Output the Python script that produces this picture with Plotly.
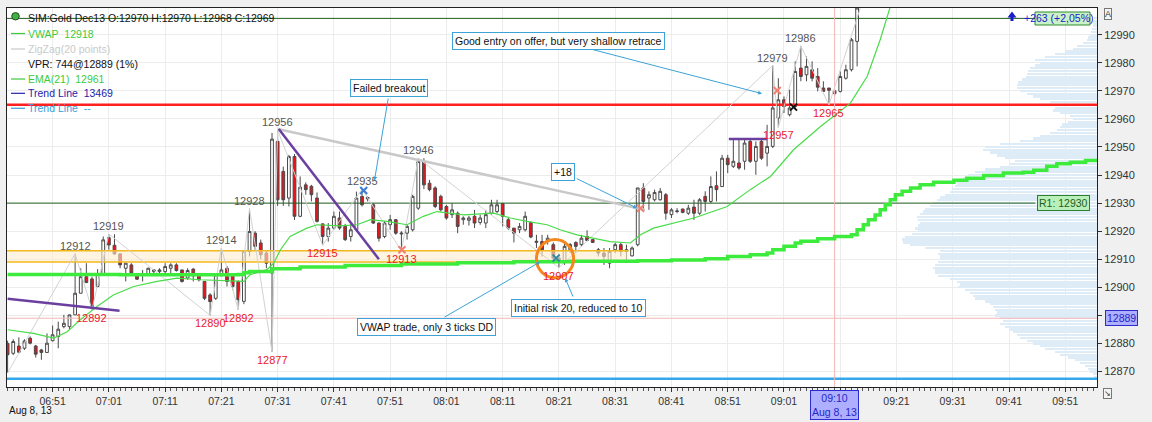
import plotly.graph_objects as go
import pandas as pd

# ---------------- data ----------------
BASE = pd.Timestamp('2013-08-08 06:43:00')   # first 1-minute bar

opens = [12880, 12876.5, 12879.1, 12878.3, 12881.9, 12879.1, 12877.7, 12876.8, 12881.0, 12882.5,
         12886.0, 12886.0, 12890.2, 12897.9, 12903.8, 12903.0, 12900.3, 12904.4, 12917.7, 12915.0,
         12911.9, 12906.8, 12908.0, 12904.1, 12904.4, 12904.8, 12905.6, 12905.6, 12905.6, 12906.8,
         12908.0, 12906.2, 12903.3, 12906.5, 12904.4, 12902.1, 12897.3, 12896.1, 12904.1, 12906.8,
         12904.4, 12902.1, 12895.0, 12912.8, 12919.3, 12915.8, 12912.2, 12905.1, 12952.0, 12941.3,
         12931.8, 12946.6, 12925.3, 12936.5, 12936.0, 12931.8, 12922.6, 12918.1, 12921.1, 12924.7,
         12921.7, 12918.1, 12920.5, 12932.4, 12931.5, 12929.4, 12922.9, 12918.1, 12922.3, 12924.1,
         12919.0, 12919.3, 12920.5, 12928.2, 12944.8, 12937.1, 12935.4, 12932.4, 12928.8, 12925.9,
         12926.4, 12924.1, 12923.9, 12925.3, 12923.1, 12922.9, 12926.4, 12927.0, 12929.8, 12924.1,
         12921.1, 12920.5, 12920.5, 12923.1, 12916.0, 12916.3, 12916.4, 12915.2, 12910.4, 12909.2,
         12913.4, 12916.0, 12915.2, 12918.1, 12917.0, 12913.4, 12912.2, 12908.6, 12913.4, 12915.2,
         12913.4, 12911.2, 12915.2, 12935.4, 12931.8, 12931.2, 12931.2, 12933.0, 12925.9, 12927.0,
         12927.9, 12926.4, 12928.6, 12926.4, 12932.4, 12930.6, 12936.2, 12935.9, 12946.0, 12943.1,
         12944.3, 12944.9, 12952.0, 12944.9, 12952.0, 12947.8, 12950.2, 12960.3, 12966.8, 12961.5,
         12964.4, 12978.1, 12975.7, 12977.5, 12975.1, 12971.0, 12971.0, 12970.0, 12969.8, 12974.5,
         12977.5, 12987.6]
highs = [12881, 12881.5, 12882.2, 12881.5, 12882.5, 12879.5, 12878.1, 12883.6, 12886.4, 12887.8,
         12890.2, 12890.2, 12912.0, 12906.8, 12908.6, 12903.8, 12906.5, 12918.1, 12919.0, 12918.9,
         12912.2, 12908.8, 12908.6, 12905.0, 12906.2, 12907.0, 12906.5, 12906.8, 12908.6, 12908.6,
         12908.6, 12906.2, 12906.8, 12906.8, 12905.0, 12902.1, 12897.9, 12905.0, 12914.0, 12907.6,
         12905.0, 12902.5, 12913.0, 12928.0, 12920.0, 12917.0, 12913.0, 12955.0, 12956.0, 12943.0,
         12947.2, 12947.5, 12939.5, 12937.4, 12936.5, 12933.8, 12922.8, 12922.9, 12927.0, 12927.0,
         12922.6, 12922.9, 12934.1, 12935.0, 12932.4, 12930.0, 12923.1, 12923.5, 12925.8, 12924.3,
         12920.0, 12922.3, 12933.0, 12946.0, 12946.0, 12938.3, 12936.0, 12933.0, 12929.4, 12930.0,
         12927.0, 12925.3, 12925.5, 12927.6, 12925.9, 12927.6, 12931.2, 12931.2, 12930.0, 12924.7,
         12921.1, 12922.9, 12927.0, 12923.5, 12918.7, 12918.7, 12918.7, 12916.0, 12912.0, 12915.8,
         12915.8, 12916.4, 12918.7, 12920.3, 12917.2, 12914.0, 12914.0, 12914.0, 12915.8, 12915.8,
         12915.2, 12914.6, 12935.4, 12937.1, 12934.2, 12934.8, 12935.4, 12933.6, 12928.2, 12928.2,
         12928.0, 12929.4, 12931.2, 12931.8, 12934.2, 12939.5, 12941.3, 12947.2, 12947.2, 12952.6,
         12952.6, 12952.6, 12952.6, 12952.0, 12952.6, 12957.9, 12979.0, 12974.5, 12968.0, 12970.4,
         12980.5, 12986.0, 12982.3, 12980.5, 12978.1, 12973.4, 12971.0, 12970.0, 12976.9, 12979.3,
         12988.8, 13003.0]
lows = [12869.5, 12875.9, 12876.5, 12877.7, 12879.7, 12875.0, 12874.2, 12876.8, 12880.7, 12878.3,
        12885.4, 12884.8, 12890.2, 12897.9, 12901.5, 12892.0, 12900.0, 12904.4, 12913.4, 12911.6,
        12906.8, 12902.1, 12904.4, 12902.7, 12902.1, 12904.4, 12905.0, 12904.4, 12904.4, 12905.0,
        12905.6, 12901.7, 12902.7, 12902.1, 12902.1, 12895.5, 12890.0, 12895.5, 12904.1, 12900.3,
        12899.0, 12892.0, 12894.0, 12911.0, 12913.4, 12910.0, 12906.8, 12877.0, 12929.0, 12929.0,
        12928.8, 12924.0, 12925.0, 12933.0, 12930.6, 12923.1, 12915.0, 12916.3, 12920.5, 12920.5,
        12916.5, 12916.3, 12920.0, 12928.8, 12930.6, 12922.6, 12916.3, 12917.5, 12920.5, 12918.7,
        12913.0, 12917.0, 12919.9, 12927.6, 12935.0, 12934.2, 12928.2, 12927.0, 12924.1, 12924.7,
        12919.3, 12922.3, 12922.0, 12921.1, 12922.3, 12921.1, 12925.9, 12926.4, 12921.7, 12920.5,
        12916.0, 12919.3, 12919.9, 12917.5, 12914.0, 12911.0, 12915.2, 12909.6, 12907.0, 12908.0,
        12912.2, 12912.2, 12914.6, 12916.4, 12915.8, 12911.0, 12908.0, 12906.8, 12912.2, 12911.0,
        12909.2, 12911.0, 12914.6, 12928.0, 12927.6, 12930.6, 12930.9, 12924.1, 12924.7, 12926.4,
        12926.4, 12925.8, 12924.0, 12925.8, 12927.0, 12930.0, 12930.6, 12935.9, 12940.7, 12942.5,
        12941.9, 12941.9, 12944.3, 12940.1, 12945.4, 12943.1, 12949.6, 12957.0, 12962.1, 12960.9,
        12963.3, 12973.4, 12973.4, 12973.4, 12969.8, 12969.8, 12965.0, 12968.0, 12969.4, 12974.0,
        12976.9, 12978.7]
closes = [12876, 12880.7, 12876.9, 12880.9, 12880.1, 12876.2, 12876.8, 12880.1, 12883.1, 12885.1,
          12887.2, 12890.2, 12897.9, 12903.8, 12901.7, 12893.2, 12904.8, 12916.9, 12915.1, 12911.9,
          12908.0, 12908.6, 12905.0, 12902.9, 12904.8, 12906.8, 12906.2, 12906.2, 12907.4, 12908.0,
          12906.0, 12902.1, 12906.0, 12904.1, 12902.7, 12896.1, 12894.9, 12904.4, 12906.2, 12902.1,
          12900.3, 12895.6, 12912.8, 12919.9, 12914.6, 12911.6, 12908.6, 12952.8, 12931.2, 12931.2,
          12946.6, 12925.3, 12935.7, 12934.8, 12933.0, 12923.5, 12918.1, 12921.1, 12925.3, 12921.1,
          12917.0, 12920.5, 12931.8, 12929.4, 12932.0, 12922.9, 12917.5, 12922.9, 12924.1, 12919.3,
          12919.3, 12921.7, 12932.4, 12944.8, 12936.5, 12934.8, 12928.8, 12927.6, 12924.7, 12927.6,
          12921.7, 12924.7, 12924.7, 12922.9, 12924.7, 12925.9, 12929.4, 12929.4, 12925.3, 12921.1,
          12919.3, 12921.7, 12925.3, 12917.9, 12916.4, 12913.4, 12917.5, 12910.4, 12909.2, 12914.6,
          12915.2, 12914.6, 12917.5, 12916.7, 12916.0, 12912.2, 12911.0, 12912.8, 12915.2, 12912.8,
          12912.8, 12914.0, 12935.4, 12930.6, 12933.0, 12933.8, 12934.2, 12926.4, 12927.6, 12927.2,
          12926.7, 12928.2, 12926.4, 12931.2, 12930.6, 12935.9, 12934.8, 12946.0, 12943.7, 12944.9,
          12942.5, 12951.4, 12944.9, 12950.2, 12946.0, 12950.2, 12963.9, 12966.8, 12964.4, 12963.9,
          12976.9, 12975.1, 12978.7, 12974.5, 12971.3, 12969.8, 12970.2, 12969.0, 12975.1, 12977.5,
          12988.2, 12999.5]

# indicators (bar index, value)
vwap_bar = [0, 20, 41, 42, 43, 47, 52, 60, 70, 80, 90, 100, 112, 118, 124, 128, 132, 135, 136, 138,
            140, 141, 144, 147, 150, 151, 152.1, 153, 154.2, 155.1, 156, 156.9, 157.8, 159, 160.5,
            162.2, 164.6, 168.2, 170.5, 173.5, 177, 180.5, 182.4, 184.7, 186.5, 188.9, 191.6, 194]
vwap_val = [12904.6, 12904.5, 12904.6, 12905.2, 12905.6, 12906.6, 12907.2, 12907.8, 12908.3, 12908.8,
            12909.1, 12909.3, 12909.5, 12909.7, 12910.2, 12911.0, 12911.6, 12912.2, 12913.4, 12914.6,
            12915.8, 12916.4, 12917.3, 12918.1, 12918.7, 12920.5, 12922.3, 12924.1, 12925.8, 12927.6,
            12929.4, 12931.2, 12933.0, 12934.2, 12935.4, 12936.5, 12937.4, 12938.1, 12938.9, 12939.8,
            12940.7, 12941.0, 12941.7, 12943.1, 12944.0, 12944.6, 12945.2, 12945.7]
ema_bar = [0, 4.6, 8.2, 10.6, 12.9, 15.9, 18.8, 22.4, 26.6, 30.1, 34.3, 37.8, 42, 43.1, 46.1, 47.3,
           48.5, 50.2, 53.2, 55, 59.1, 62.1, 64.5, 67.4, 71, 73.9, 76.3, 81.1, 86.4, 89.4, 92.3, 95.9,
           98.2, 101.2, 104.2, 107.1, 110.7, 112.5, 114.8, 117.2, 120, 122, 127.9, 132, 135.6, 139.7,
           144.5, 148, 149.8, 152.8, 155.1, 156.9, 158]
ema_val = [12884.9, 12883.6, 12881.9, 12884.2, 12888.4, 12893.2, 12897.3, 12900.3, 12902.1, 12903.3,
           12902.7, 12902.4, 12902.1, 12904.5, 12906.3, 12908.6, 12913.4, 12918.1, 12921.1, 12922.3,
           12921.9, 12922.3, 12924.1, 12923.5, 12922.3, 12925.3, 12927.0, 12925.8, 12926.4, 12924.7,
           12923.5, 12922.3, 12920.5, 12918.7, 12917.5, 12916.3, 12915.8, 12918.7, 12921.1, 12922.3,
           12923.5, 12924.7, 12928.8, 12934.8, 12939.5, 12949.0, 12957.3, 12962.7, 12965.6, 12975.2,
           12988.2, 13000.0, 13004.0]
zz_bar = [0, 12, 15, 18, 36, 38, 41, 43, 47, 48, 56, 63, 70, 73, 98, 136, 137, 141, 146, 152.3]
zz_val = [12869.5, 12912, 12892, 12919, 12890, 12914, 12892, 12928, 12877, 12956, 12915, 12935,
          12913, 12946, 12907, 12979, 12957, 12986, 12965, 13004]

swing_hi_bar = [12, 18, 38, 43, 48, 63, 73, 136, 141]
swing_hi_val = [12912, 12919, 12914, 12928, 12956, 12935, 12946, 12979, 12986]
swing_lo_bar = [15, 36, 41, 47, 56, 70, 98, 137, 146]
swing_lo_val = [12892, 12890, 12892, 12877, 12915, 12913, 12907, 12957, 12965]

# volume profile (price level -> volume)
vp_price = list(range(12996, 12867, -1))
vp_vol = [3, 4, 4, 4, 5, 6, 7, 9, 10, 14, 20, 24, 32, 42, 52, 62, 57, 62, 67, 69,
          70, 71, 75, 79, 80, 80, 77, 70, 64, 57, 47, 37, 42, 44, 37, 27, 24, 29, 35, 37,
          40, 47, 57, 64, 77, 97, 112, 114, 107, 100, 92, 82, 87, 97, 112, 122, 129, 134, 137, 140,
          142, 145, 147, 152, 157, 160, 164, 167, 172, 174, 177, 180, 179, 177, 179, 182, 179, 185, 192, 195,
          194, 187, 172, 157, 159, 157, 157, 159, 162, 164, 162, 162, 159, 147, 140, 137, 139, 132, 127, 124,
          122, 112, 107, 104, 102, 100, 102, 97, 94, 97, 92, 87, 84, 80, 77, 70, 64, 57, 52, 42,
          37, 29, 22, 17, 12, 9, 7, 4, 3]

# levels
red_level = 12965
r1_level = 12930
r2_level = 12995.8
cross_price = 12889
cross_bar = 147
cyan_level = 12867.4
band_hi, band_lo, band_end_bar = 12913.0, 12909.0, 110.4

# trade markers (bar, price)
mk_bar = [63.3, 70.1, 97.5, 112.5, 136.8, 139.7]
mk_val = [12934.5, 12913.4, 12910.4, 12928.2, 12970.1, 12964.2]
mk_col = ['#3A7BD5', '#F08070', '#2E8BA8', '#F08070', '#F08070', '#111111']

# drawn trend lines ((bar0, p0), (bar1, p1))
purple_lines = [((0, 12895.9), (19.9, 12891.7)), ((48.2, 12956.4), (66.0, 12910.0)),
                ((128.2, 12952.8), (135.0, 12952.8))]
grey_line = ((48.0, 12956.4), (113.3, 12927.6))

x_tick_labels = ['06:51', '07:01', '07:11', '07:21', '07:31', '07:41', '07:51', '08:01', '08:11',
                 '08:21', '08:31', '08:41', '08:51', '09:01', '', '09:21', '09:31', '09:41', '09:51']
y_ticks = list(range(12870, 13000, 10))
# the 12890 label sits under the crosshair price box in the original
y_tick_labels = ['' if v == 12890 else str(v) for v in y_ticks]

# ---------------- helpers ----------------
def tt(b):
    return BASE + pd.Timedelta(minutes=b)

def t(b):
    return tt(b).strftime('%Y-%m-%d %H:%M:%S.%f')

X_LEFT, X_RIGHT = -0.107, 193.64        # visible range in bars
PL, PT, PW, PH = 7, 8, 1090, 379
W, H = 1152, 422
def px(x):
    return (x - PL) / PW
def py(y):
    return 1 - (y - PT) / PH

FONT = 'Liberation Sans'
bar_times = [t(i) for i in range(len(opens))]

fig = go.Figure()

# volume profile (behind everything), anchored at the right edge of the time axis
MS_PER_VOL = (X_RIGHT - X_LEFT) * 60000 / PW      # one volume unit ~ one pixel
right_edge = tt(X_RIGHT)
vp_len = [v * MS_PER_VOL for v in vp_vol]
vp_base = [(right_edge - pd.Timedelta(milliseconds=d)).strftime('%Y-%m-%d %H:%M:%S.%f') for d in vp_len]
fig.add_trace(go.Bar(x=vp_len, y=vp_price, base=vp_base, orientation='h',
                     marker=dict(color='rgb(221,236,246)', line=dict(width=0)), width=0.8,
                     hoverinfo='skip'))

# band
fig.add_trace(go.Scatter(x=[t(-0.2), t(band_end_bar)], y=[band_hi, band_hi], mode='lines',
                         line=dict(color='#F2B81C', width=1.5), hoverinfo='skip'))
fig.add_trace(go.Scatter(x=[t(-0.2), t(band_end_bar)], y=[band_lo, band_lo], mode='lines',
                         line=dict(color='#F2B81C', width=1.5), fill='tonexty',
                         fillcolor='rgba(255,236,205,0.6)', hoverinfo='skip'))

# horizontal levels
xl, xr = t(-0.2), t(194)
xlab = t((1035 - 7.3) / 5.626)
for lvl, col, w, x1 in [(cyan_level, '#35A8EC', 2.5, xr), (cross_price, '#F3B6B6', 1, xr),
                        (r1_level, '#1F5F1F', 1, xlab), (r2_level, '#1F5F1F', 1, xlab),
                        (red_level, '#FF2020', 2.5, xr)]:
    fig.add_trace(go.Scatter(x=[xl, x1], y=[lvl, lvl], mode='lines',
                             line=dict(color=col, width=w), hoverinfo='skip'))

# crosshair vertical
fig.add_trace(go.Scatter(x=[t(cross_bar), t(cross_bar)], y=[12860, 13010], mode='lines',
                         line=dict(color='#F3B6B6', width=1), hoverinfo='skip'))

# zigzag, VWAP, EMA
fig.add_trace(go.Scatter(x=[t(b) for b in zz_bar], y=zz_val, mode='lines',
                         line=dict(color='#D2D2D2', width=1), hoverinfo='skip'))
fig.add_trace(go.Scatter(x=[t(b) for b in vwap_bar], y=vwap_val, mode='lines',
                         line=dict(color='#3DEB3D', width=3.5, shape='hv'), hoverinfo='skip'))
fig.add_trace(go.Scatter(x=[t(b) for b in ema_bar], y=ema_val, mode='lines',
                         line=dict(color='#48DC48', width=1.2), hoverinfo='skip'))

# candles
fig.add_trace(go.Candlestick(x=bar_times, open=opens, high=highs, low=lows, close=closes,
                             increasing=dict(line=dict(color='#4A4A4A', width=1), fillcolor='white'),
                             decreasing=dict(line=dict(color='#4A4A4A', width=1), fillcolor='#E8141B'),
                             whiskerwidth=0, hoverinfo='skip'))

# trend lines
fig.add_trace(go.Scatter(x=[t(grey_line[0][0]), t(grey_line[1][0])],
                         y=[grey_line[0][1], grey_line[1][1]], mode='lines',
                         line=dict(color='#C9C9C9', width=2.5), hoverinfo='skip'))
for (b0, p0), (b1, p1) in purple_lines:
    fig.add_trace(go.Scatter(x=[t(b0), t(b1)], y=[p0, p1], mode='lines',
                             line=dict(color='#6B3FA0', width=2.5), hoverinfo='skip'))

# trade markers
fig.add_trace(go.Scatter(x=[t(b) for b in mk_bar], y=mk_val, mode='markers',
                         marker=dict(symbol='x-thin', size=7, line=dict(width=2, color=mk_col)),
                         hoverinfo='skip'))

shapes = []
annotations = []

def pnote(x, y, text, **kw):
    d = dict(xref='paper', yref='paper', x=px(x), y=py(y), text=text, showarrow=False,
             xanchor='center', yanchor='middle')
    d.update(kw)
    annotations.append(d)

# orange circle
shapes.append(dict(type='circle', xref='x', yref='y', x0=t(94.0), x1=t(100.6), y0=12903.4, y1=12917.0,
                   line=dict(color='#F5871F', width=3)))

# swing labels
for b, v in zip(swing_hi_bar, swing_hi_val):
    annotations.append(dict(x=t(b), y=v, text=str(v), showarrow=False, xanchor='center',
                            yanchor='bottom', font=dict(family=FONT, size=11, color='#555555')))
for b, v in zip(swing_lo_bar, swing_lo_val):
    annotations.append(dict(x=t(b), y=v, text=str(v), showarrow=False, xanchor='center',
                            yanchor='top', font=dict(family=FONT, size=11, color='#E8202A')))

# comment boxes
box = dict(showarrow=False, bgcolor='white', bordercolor='#3BA3D8', borderwidth=1, borderpad=2,
           xanchor='center', yanchor='middle', font=dict(family=FONT, size=10.5, color='#111111'))
comments = [('Good entry on offer, but very shallow retrace', 98.0, 12987.7, (103.6, 12984.9), (134.1, 12969.0)),
            ('Failed breakout', 67.8, 12970.9, (67.7, 12967.8), (65.2, 12938.0)),
            ('+18', 98.7, 12941.0, (100.9, 12939.0), (111.9, 12928.2)),
            ('Initial risk 20, reduced to 10', 101.4, 12892.6, (100.6, 12896.2), (99.1, 12903.3)),
            ('VWAP trade, only 3 ticks DD', 74.4, 12885.7, (77.4, 12889.1), (94.7, 12909.1))]
for txt, bx, by, (sb, sp), (eb, ep) in comments:
    annotations.append(dict(x=t(eb), y=ep, ax=t(sb), ay=sp, axref='x', ayref='y', text='',
                            showarrow=True, arrowhead=2, arrowsize=0.8, arrowwidth=1,
                            arrowcolor='#3BA3D8'))
    annotations.append(dict(x=t(bx), y=by, text=txt, **box))

# legend (top-left)
legend = [(18.3, 'SIM:Gold Dec13 O:12970 H:12970 L:12968 C:12969', '#111111', None),
          (33.5, 'VWAP\u00a0\u00a012918', '#3CCB3C', '#3CCB3C'),
          (49.0, 'ZigZag(20 points)', '#CACACA', '#CACACA'),
          (63.7, 'VPR: 744@12889 (1%)', '#111111', None),
          (79.0, 'EMA(21)\u00a0\u00a012961', '#3CCB3C', '#3CCB3C'),
          (93.3, 'Trend Line\u00a0\u00a013469', '#2323A8', '#2323A8'),
          (108.3, 'Trend Line\u00a0\u00a0--', '#3A9AD9', '#3A9AD9')]
for yy, txt, col, dash in legend:
    pnote(26, yy, txt, xanchor='left', font=dict(family=FONT, size=10.5, color=col))
    if dash:
        shapes.append(dict(type='line', xref='paper', yref='paper', x0=px(11), x1=px(25),
                           y0=py(yy), y1=py(yy), line=dict(color=dash, width=1.2)))
shapes.append(dict(type='circle', xref='paper', yref='paper', x0=px(11.7), x1=px(19.3), y0=py(20),
                   y1=py(12.6), fillcolor='#44B044', line=dict(color='#1E4E1E', width=1)))

# right-side labels
shapes.append(dict(type='rect', xref='paper', yref='paper', x0=px(1035), x1=px(1090), y0=py(25),
                   y1=py(12), fillcolor='#C9F2C9', line=dict(color='#2E8B2E', width=1)))
pnote(1058, 18.3, '+263 (+2,05%)', font=dict(family=FONT, size=10.5, color='#1C1CC8'))
shapes.append(dict(type='path', xref='paper', yref='paper', fillcolor='#1C1CC8', line=dict(width=0),
                   path=f'M {px(1007.5)},{py(17.5)} L {px(1012)},{py(11.5)} L {px(1016.5)},{py(17.5)} '
                        f'L {px(1013.5)},{py(17.5)} L {px(1013.5)},{py(21)} L {px(1010.5)},{py(21)} '
                        f'L {px(1010.5)},{py(17.5)} Z'))
annotations.append(dict(xref='paper', yref='y', x=px(1063), y=r1_level, text='R1: 12930', showarrow=False,
                        xanchor='center', yanchor='middle',
                        bgcolor='#B9F0B9', bordercolor='#2E7D32', borderwidth=1, borderpad=1,
                        font=dict(family=FONT, size=10.5, color='#1E5E1E')))
annotations.append(dict(xref='paper', yref='y', x=px(1121), y=cross_price, text='12889', showarrow=False,
                        xanchor='center', yanchor='middle',
                        bgcolor='#AEB0FF', bordercolor='#2B2BD0', borderwidth=1, borderpad=1,
                        font=dict(family=FONT, size=10.5, color='#2525C8')))
annotations.append(dict(xref='x', yref='paper', x=t(cross_bar), y=py(404.5), text='09:10<br>Aug 8, 13',
                        showarrow=False, xanchor='center', yanchor='middle',
                        bgcolor='#AEB0FF', bordercolor='#2B2BD0', borderwidth=1,
                        borderpad=1, font=dict(family=FONT, size=10.5, color='#2525C8')))
pnote(7, 410, 'Aug 8, 13', xanchor='left', font=dict(family=FONT, size=10, color='#111111'))
pnote(1107.5, 14.5, 'A', bgcolor='#F4F4F4', bordercolor='#777777', borderwidth=1, borderpad=0,
      font=dict(family=FONT, size=9, color='#333333'))
pnote(1107.5, 393.5, '\u2198', bgcolor='#F4F4F4', bordercolor='#777777', borderwidth=1, borderpad=0,
      font=dict(family='DejaVu Sans', size=8, color='#333333'))

tick_vals = [t(8 + 10 * k) for k in range(len(x_tick_labels))]

fig.update_layout(
    width=W, height=H, margin=dict(l=PL, r=W - PL - PW, t=PT, b=H - PT - PH, autoexpand=False),
    paper_bgcolor='#F0F0F0', plot_bgcolor='white', showlegend=False, bargap=0,
    font=dict(family=FONT, size=10.5, color='#333333'),
    xaxis=dict(type='date', range=[t(X_LEFT), t(X_RIGHT)], tickmode='array', tickvals=tick_vals,
               ticktext=x_tick_labels, showgrid=True, gridcolor='#ECECEC', gridwidth=1,
               ticks='outside', ticklen=4, tickcolor='#333333', showline=True, linecolor='#222222',
               mirror=True, rangeslider=dict(visible=False), zeroline=False, automargin=False,
               minor=dict(ticks='outside', ticklen=3, tickcolor='#555555', dtick=60000,
                          tick0=t(0), showgrid=False),
               tickfont=dict(family=FONT, size=10.5, color='#333333')),
    yaxis=dict(side='right', range=[12864.5, 12999.5], tickmode='array', tickvals=y_ticks,
               ticktext=y_tick_labels, showgrid=True, gridcolor='#ECECEC', ticks='outside', ticklen=4,
               tickcolor='#333333', showline=True, linecolor='#222222', mirror=True, zeroline=False,
               automargin=False, tickfont=dict(family=FONT, size=11, color='#333333')),
    shapes=shapes, annotations=annotations,
)

# the page's default 8px body margin would shift the figure; remove it
fig.write_html('out.html', config={'displayModeBar': False},
               post_script="document.body.style.margin='0';"
                           "document.body.style.background='#F0F0F0';")
